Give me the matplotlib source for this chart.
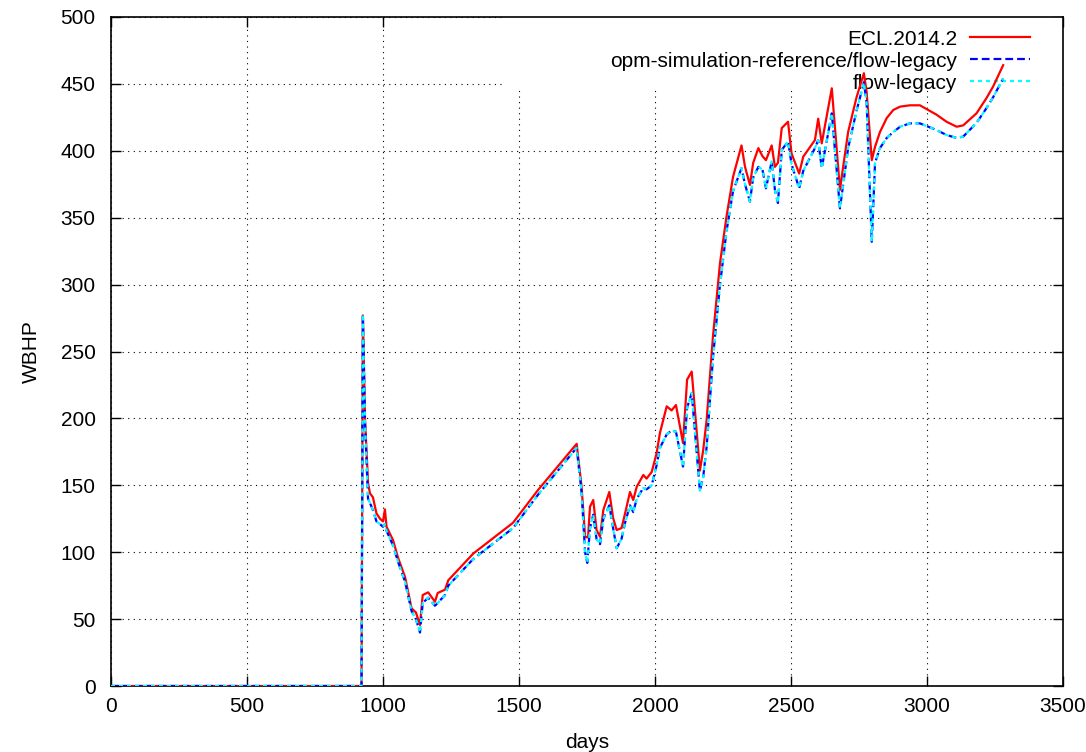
# wbhp_compare.py
# WBHP of one well: ECL reference vs opm-simulation-reference vs flow-legacy
# Output: out.png

import matplotlib
matplotlib.use("Agg")
import matplotlib.pyplot as plt
from matplotlib.patches import Rectangle

plt.rcParams['font.family'] = ['Liberation Sans', 'DejaVu Sans']

# values
days = [0, 921, 926, 934, 945, 952, 963, 976, 989, 1000, 1007, 1013, 1037, 1055,
        1081, 1105, 1121, 1136, 1146, 1166, 1191, 1201, 1228, 1240, 1332, 1478,
        1570, 1712, 1730, 1743, 1751, 1754, 1761, 1773, 1785, 1798, 1810, 1832,
        1846, 1859, 1877, 1890, 1908, 1920, 1933, 1957, 1969, 1988, 2006, 2018,
        2043, 2061, 2077, 2103, 2118, 2135, 2165, 2177, 2190, 2213, 2239, 2263,
        2287, 2318, 2331, 2349, 2361, 2380, 2395, 2408, 2429, 2441, 2452, 2466,
        2489, 2502, 2530, 2545, 2588, 2600, 2613, 2650, 2680, 2690, 2710, 2741,
        2768, 2778, 2797, 2809, 2827, 2852, 2876, 2901, 2937, 2974, 3035, 3072,
        3109, 3133, 3182, 3219, 3243, 3280]

ecl = [0, 0, 277, 199, 152, 144, 141, 129, 125, 123, 132, 119, 109, 96,
       81.5, 58, 55, 45.6, 68, 70, 63, 69.5, 72, 79, 99, 122,
       146.5, 181, 149, 111.6, 111, 111.6, 134, 139, 116.6, 111.6, 131.5, 145,
       125.6, 116.6, 118, 129, 145, 139, 149, 157.7, 155, 160, 174, 189,
       209, 206, 210, 181.6, 229, 235, 161, 176, 199, 261, 316, 351,
       380.6, 404, 388, 374.5, 391, 402, 396, 393, 404, 388, 391, 417,
       421.7, 398, 383, 395.6, 408, 424, 405.6, 446.7, 370.8, 385.6, 414, 440,
       458, 444, 393, 403, 414, 424.5, 430.5, 433, 434, 434, 427, 421.7,
       418, 419, 428, 439.5, 448, 464]

opm_ref = [0, 0, 278, 195, 140, 136.8, 131.5, 123, 121, 119, 121, 116, 105, 93,
           78, 56, 50, 40, 62, 66, 60, 62, 68, 75, 95, 118,
           143, 178, 145, 100, 92, 100, 118, 128, 110, 106, 125, 135,
           118, 103, 110, 122, 135, 130, 140, 148, 147, 150, 165, 178,
           188, 191, 190, 164, 208, 219, 146, 156, 179, 245, 300, 340,
           370, 387, 375, 362, 380, 388, 386, 372, 392, 370.6, 361, 400.6,
           407, 390, 372, 385, 402, 408, 387, 428, 357, 372, 402, 430,
           451, 436, 332, 391, 402, 409.6, 414, 418, 420.5, 420.5, 415.5, 411.8,
           409.6, 410.6, 420.8, 432, 440, 454]

flow_legacy = list(opm_ref)

labels = ["ECL.2014.2", "opm-simulation-reference/flow-legacy", "flow-legacy"]

fig = plt.figure(figsize=(10.86, 7.52), dpi=100)
ax = fig.add_axes([111/1086, 1 - 686/752, (1063-111)/1086, (686-17)/752])

ax.plot(days, ecl, color="#ff0000", lw=1.6, label=labels[0], zorder=3)
ax.plot(days, opm_ref, color="#0000ff", lw=1.6, dashes=(3.5, 1.8), label=labels[1], zorder=4)
ax.plot(days, flow_legacy, color="#00ffff", lw=1.6, dashes=(1.8, 1.8), label=labels[2], zorder=5)

ax.set_xlim(0, 3500)
ax.set_ylim(0, 500)
ax.set_xticks(range(0, 3501, 500))
ax.set_yticks(range(0, 501, 50))
ax.tick_params(direction="in", length=7, width=1, top=True, right=True,
               labelsize=15)
ax.tick_params(axis="y", pad=11)
ax.tick_params(axis="x", pad=8)
ax.set_axisbelow(True)
ax.grid(True, color="black", linestyle=(0, (1, 4)), linewidth=0.8)
for sp in ax.spines.values():
    sp.set_linewidth(1.2)

ax.set_xlabel("days", fontsize=15, labelpad=12)
ax.set_ylabel("WBHP", fontsize=15, labelpad=14)

# opaque key box like gnuplot, lines still drawn over it
ax.add_patch(Rectangle((0.411, 0.894), 0.589, 0.106, transform=ax.transAxes,
                       facecolor="white", edgecolor="none", zorder=1))
leg = ax.legend(loc="upper right", bbox_to_anchor=(0.9653, 0.981), frameon=False,
                markerfirst=False, fontsize=15, handlelength=2.9,
                handletextpad=0.6, labelspacing=0.14, borderpad=0, borderaxespad=0)
leg.set_zorder(2)

fig.savefig("out.png", dpi=100)
